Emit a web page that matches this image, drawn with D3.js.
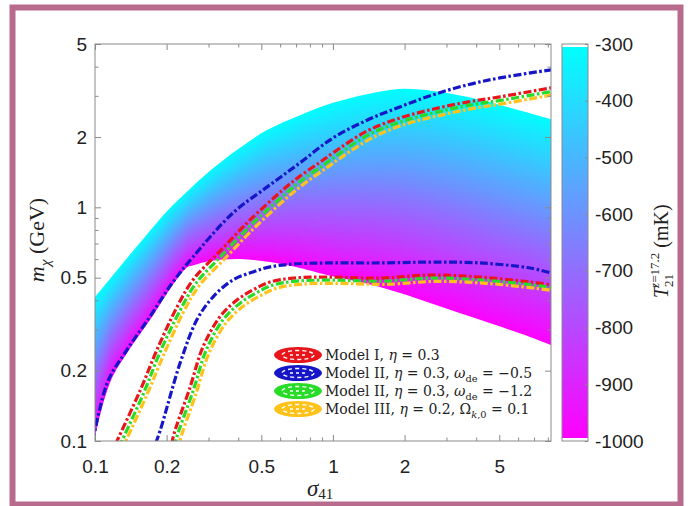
<!DOCTYPE html>
<html lang="en">
<head>
<meta charset="utf-8" />
<title>T21 band with model contours</title>
<script src="https://cdn.jsdelivr.net/npm/d3@7"></script>
<style>
  body { margin: 0; background: #fff; }
  .tick text { font-family: "Liberation Sans", Arial, sans-serif; font-size: 19px; fill: #222; }
  .tick line { stroke: #8a8a8a; }
  .serif { font-family: "Liberation Serif", "Times New Roman", serif; fill: #222; }
  .legend { font-family: "DejaVu Serif", serif; fill: #222; }
</style>
</head>
<body>
<script>
// ticks
var xTicks = [0.1, 0.2, 0.5, 1, 2, 5];
var xMinor = [0.3, 0.4, 0.6, 0.7, 0.8, 0.9, 3, 4, 6, 7, 8];
var yTicks = [0.1, 0.2, 0.5, 1, 2, 5];
var yMinor = [0.3, 0.4, 0.6, 0.7, 0.8, 0.9, 3, 4];
var cbTicks = [-300, -400, -500, -600, -700, -800, -900, -1000];

// coloured band: T21 = -300 edge (upper) and T21 = -1000 edge (lower)
var upperSigma = [0.1, 0.127, 0.162, 0.201, 0.251, 0.319, 0.407, 0.528, 0.727, 1.0, 1.39, 1.91, 2.63, 3.66, 5.03, 6.73, 8.3];
var upperMass  = [0.413, 0.556, 0.746, 0.964, 1.2, 1.49, 1.8, 2.14, 2.48, 2.8, 3.05, 3.21, 3.15, 2.97, 2.74, 2.53, 2.38];
var lowerSigma = [0.1, 0.116, 0.139, 0.174, 0.215, 0.245, 0.26, 0.304, 0.407, 0.544, 0.727, 0.944, 1.576, 2.56, 4.15, 6.73, 8.3];
var lowerMass  = [0.105, 0.179, 0.245, 0.34, 0.474, 0.555, 0.565, 0.589, 0.601, 0.583, 0.55, 0.513, 0.456, 0.39, 0.33, 0.279, 0.257];

// Model I (eta = 0.3)
var m1LeftSigma  = [0.122, 0.155, 0.182, 0.221, 0.258, 0.329, 0.407, 0.448, 0.617, 0.727, 0.882, 1.0, 1.39, 1.91, 2.63, 3.66, 5.03, 8.3];
var m1LeftMass   = [0.097, 0.165, 0.245, 0.374, 0.489, 0.637, 0.80, 0.883, 1.19, 1.36, 1.56, 1.71, 2.12, 2.41, 2.63, 2.82, 2.97, 3.25];
var m1RightSigma = [0.211, 0.213, 0.251, 0.284, 0.335, 0.395, 0.461, 0.544, 0.679, 0.944, 1.576, 2.56, 4.15, 6.73, 8.3];
var m1RightMass  = [0.097, 0.104, 0.170, 0.252, 0.340, 0.401, 0.443, 0.479, 0.498, 0.503, 0.498, 0.513, 0.503, 0.479, 0.465];

// Model II (eta = 0.3, w_de = -0.5)
var m2LeftSigma  = [0.098, 0.113, 0.136, 0.170, 0.211, 0.258, 0.38, 0.528, 0.727, 1.0, 1.39, 1.91, 2.63, 3.66, 5.03, 8.3];
var m2LeftMass   = [0.1, 0.179, 0.245, 0.34, 0.474, 0.613, 0.946, 1.22, 1.55, 1.98, 2.36, 2.69, 3.03, 3.34, 3.58, 3.88];
var m2RightSigma = [0.18, 0.188, 0.228, 0.268, 0.313, 0.38, 0.461, 0.544, 0.679, 0.944, 1.576, 2.56, 4.15, 6.73, 8.3];
var m2RightMass  = [0.098, 0.111, 0.216, 0.33, 0.413, 0.489, 0.529, 0.556, 0.572, 0.578, 0.578, 0.583, 0.578, 0.55, 0.523];

// Model II (eta = 0.3, w_de = -1.2)
var m3LeftSigma  = [0.126, 0.16, 0.187, 0.228, 0.266, 0.339, 0.419, 0.461, 0.636, 0.749, 0.908, 1.03, 1.43, 1.97, 2.71, 3.77, 5.18, 8.45];
var m3LeftMass   = [0.094, 0.16, 0.238, 0.363, 0.474, 0.618, 0.776, 0.857, 1.15, 1.32, 1.51, 1.66, 2.06, 2.34, 2.55, 2.74, 2.88, 3.14];
var m3RightSigma = [0.217, 0.219, 0.259, 0.293, 0.345, 0.407, 0.475, 0.56, 0.699, 0.972, 1.62, 2.64, 4.27, 6.93, 8.45];
var m3RightMass  = [0.094, 0.101, 0.165, 0.244, 0.33, 0.389, 0.43, 0.465, 0.483, 0.488, 0.483, 0.498, 0.488, 0.465, 0.452];

// Model III (eta = 0.2, Omega_k0 = 0.1)
var m4LeftSigma  = [0.129, 0.164, 0.193, 0.234, 0.273, 0.349, 0.431, 0.475, 0.654, 0.771, 0.935, 1.06, 1.47, 2.02, 2.79, 3.88, 5.33, 8.7];
var m4LeftMass   = [0.091, 0.155, 0.23, 0.352, 0.46, 0.599, 0.752, 0.83, 1.12, 1.28, 1.47, 1.61, 1.99, 2.27, 2.47, 2.65, 2.79, 3.05];
var m4RightSigma = [0.224, 0.226, 0.266, 0.301, 0.355, 0.419, 0.489, 0.577, 0.72, 1.0, 1.67, 2.71, 4.4, 7.13, 8.7];
var m4RightMass  = [0.091, 0.098, 0.16, 0.237, 0.32, 0.377, 0.416, 0.45, 0.468, 0.473, 0.468, 0.482, 0.473, 0.45, 0.438];

var legendRows = [
  [["Model I, "], ["η", "i"], [" = 0.3"]],
  [["Model II, "], ["η", "i"], [" = 0.3, "], ["ω", "i"], ["de", "sub"], [" = −0.5"]],
  [["Model II, "], ["η", "i"], [" = 0.3, "], ["ω", "i"], ["de", "sub"], [" = −1.2"]],
  [["Model III, "], ["η", "i"], [" = 0.2, Ω"], ["k", "subi"], [",0", "sub"], [" = 0.1"]]
];

var W = 688, H = 506;
var svg = d3.select("body").append("svg").attr("width", W).attr("height", H);
svg.append("rect").attr("width", W).attr("height", H).attr("fill", "#fff");

var x = d3.scaleLog().domain([0.1, 8.25]).range([95, 551]);
var y = d3.scaleLog().domain([0.1, 5]).range([441, 44]);
var colour = d3.scaleLinear().domain([-1000, -300]).range(["#ff00ff", "#00ffff"]);

var defs = svg.append("defs");
var grad = defs.append("linearGradient").attr("id", "cool")
  .attr("x1", 0).attr("y1", 0).attr("x2", 0).attr("y2", 1);
grad.selectAll("stop").data(cbTicks).enter().append("stop")
  .attr("offset", function(d) { return (-300 - d) / 700; })
  .attr("stop-color", function(d) { return colour(d); });

defs.append("clipPath").attr("id", "plotClip").append("rect")
  .attr("x", 95).attr("y", 44).attr("width", 456).attr("height", 397);

// band outline (smooth) used as clip for the gradient columns
var up = upperSigma.map(function(s, i) { return [x(s), y(upperMass[i])]; });
var lo = lowerSigma.map(function(s, i) { return [x(s), y(lowerMass[i])]; });
var smooth = d3.line().curve(d3.curveCatmullRom.alpha(0.5));
var bandPath = smooth(up) + "L" + smooth(lo.slice().reverse()).slice(1) + "Z";
defs.append("clipPath").attr("id", "bandClip").append("path").attr("d", bandPath);

var upAt = d3.scaleLinear().domain(up.map(function(p) { return p[0]; })).range(up.map(function(p) { return p[1]; })).clamp(true);
var loAt = d3.scaleLinear().domain(lo.map(function(p) { return p[0]; })).range(lo.map(function(p) { return p[1]; })).clamp(true);

var band = svg.append("g").attr("clip-path", "url(#plotClip)")
  .append("g").attr("clip-path", "url(#bandClip)");
band.selectAll("rect").data(d3.range(95, 551)).enter().append("rect")
  .attr("x", function(d) { return d; })
  .attr("width", 1.1)
  .attr("y", function(d) { return upAt(d + 0.5) - 2; })
  .attr("height", function(d) { return loAt(d + 0.5) - upAt(d + 0.5) + 4; })
  .attr("fill", "url(#cool)")
  .attr("shape-rendering", "crispEdges");

// model contours
var line = d3.line()
  .x(function(d) { return x(d[0]); })
  .y(function(d) { return y(d[1]); })
  .curve(d3.curveCatmullRom.alpha(0.5));
function pts(s, m) { return s.map(function(v, i) { return [v, m[i]]; }); }

var models = [
  { col: "#e8161b", branches: [pts(m1LeftSigma, m1LeftMass), pts(m1RightSigma, m1RightMass)] },
  { col: "#1616c8", branches: [pts(m2LeftSigma, m2LeftMass), pts(m2RightSigma, m2RightMass)] },
  { col: "#26dc26", branches: [pts(m3LeftSigma, m3LeftMass), pts(m3RightSigma, m3RightMass)] },
  { col: "#ffc21a", branches: [pts(m4LeftSigma, m4LeftMass), pts(m4RightSigma, m4RightMass)] }
];
var lines = svg.append("g").attr("clip-path", "url(#plotClip)");
models.forEach(function(m) {
  m.branches.forEach(function(b) {
    lines.append("path").attr("d", line(b))
      .attr("fill", "none").attr("stroke", m.col)
      .attr("stroke-width", 3.2).attr("stroke-dasharray", "8,2.5,2.5,2.5");
  });
});

// axes: ticks pointing inward
function clean(g) { g.select(".domain").remove(); }
svg.append("g").attr("transform", "translate(0,441)")
  .call(d3.axisBottom(x).tickValues(xTicks).tickSize(-6).tickPadding(19).tickFormat(function(d) { return String(d); }))
  .call(clean);
svg.append("g").attr("transform", "translate(0,441)")
  .call(d3.axisBottom(x).tickValues(xMinor).tickSize(-3.5).tickFormat("")).call(clean);
svg.append("g").attr("transform", "translate(0,44)")
  .call(d3.axisTop(x).tickValues(xTicks).tickSize(-6).tickFormat("")).call(clean);
svg.append("g").attr("transform", "translate(0,44)")
  .call(d3.axisTop(x).tickValues(xMinor).tickSize(-3.5).tickFormat("")).call(clean);
svg.append("g").attr("transform", "translate(95,0)")
  .call(d3.axisLeft(y).tickValues(yTicks).tickSize(-6).tickPadding(8).tickFormat(function(d) { return String(d); }))
  .call(clean);
svg.append("g").attr("transform", "translate(95,0)")
  .call(d3.axisLeft(y).tickValues(yMinor).tickSize(-3.5).tickFormat("")).call(clean);
svg.append("g").attr("transform", "translate(551,0)")
  .call(d3.axisRight(y).tickValues(yTicks).tickSize(-6).tickFormat("")).call(clean);
svg.append("g").attr("transform", "translate(551,0)")
  .call(d3.axisRight(y).tickValues(yMinor).tickSize(-3.5).tickFormat("")).call(clean);

svg.append("rect").attr("x", 95).attr("y", 44).attr("width", 456).attr("height", 397)
  .attr("fill", "none").attr("stroke", "#8a8a8a").attr("stroke-width", 1);

// colour bar
var cb = d3.scaleLinear().domain([-1000, -300]).range([441, 44]);
svg.append("rect").attr("x", 562).attr("y", 47).attr("width", 26).attr("height", 391)
  .attr("fill", "url(#cool)");
svg.append("rect").attr("x", 562).attr("y", 44).attr("width", 26).attr("height", 397)
  .attr("fill", "none").attr("stroke", "#8a8a8a");
svg.append("g").attr("transform", "translate(588,0)")
  .call(d3.axisRight(cb).tickValues(cbTicks).tickSize(-3).tickPadding(7).tickFormat(function(d) { return String(d); }))
  .call(clean);

// rich text helper
function rich(t, parts, base) {
  var shifted = false;
  parts.forEach(function(p) {
    var s = t.append("tspan").text(p[0]);
    var sub = p[1] === "sub" || p[1] === "subi";
    if (p[1] === "i" || p[1] === "subi") s.attr("font-style", "italic");
    if (sub) { s.attr("font-size", base * 0.7); if (!shifted) s.attr("dy", base * 0.25); }
    else if (shifted) s.attr("dy", -base * 0.25);
    shifted = sub;
  });
}

// legend
var leg = svg.append("g");
legendRows.forEach(function(row, i) {
  var cy = 355 + i * 18;
  var g = leg.append("g");
  g.append("ellipse").attr("cx", 298).attr("cy", cy).attr("rx", 24).attr("ry", 8)
    .attr("fill", models[i].col);
  g.append("ellipse").attr("cx", 298).attr("cy", cy).attr("rx", 16).attr("ry", 4.5)
    .attr("fill", "none").attr("stroke", "#fff").attr("stroke-width", 1.4).attr("stroke-dasharray", "4,3");
  g.append("line").attr("x1", 290).attr("x2", 306).attr("y1", cy).attr("y2", cy)
    .attr("stroke", "#fff").attr("stroke-width", 1.4).attr("stroke-dasharray", "3,3");
  var t = g.append("text").attr("class", "legend").attr("x", 325).attr("y", cy + 5).attr("font-size", 14);
  rich(t, row, 14);
});

// axis titles
var xl = svg.append("text").attr("class", "serif").attr("x", 307).attr("y", 496).attr("font-size", 23);
xl.append("tspan").attr("font-style", "italic").text("σ");
xl.append("tspan").attr("font-size", 15).attr("dy", 3).text("41");

var yl = svg.append("text").attr("class", "serif").attr("font-size", 22)
  .attr("transform", "translate(44,240) rotate(-90)").attr("text-anchor", "middle");
rich(yl, [["m", "i"], ["χ", "subi"], [" (GeV)"]], 22);

var cl = svg.append("text").attr("class", "serif").attr("font-size", 20)
  .attr("transform", "translate(668,298) rotate(-90)");
cl.append("tspan").attr("font-style", "italic").text("T");
cl.append("tspan").attr("font-size", 13).attr("dy", 5).text("21");
cl.append("tspan").attr("font-size", 13).attr("dx", -14).attr("dy", -14).attr("font-style", "italic").text("z");
cl.append("tspan").attr("font-size", 13).text("=17.2");
cl.append("tspan").attr("dy", 9).text(" (mK)");

// frame
svg.append("rect").attr("x", 12.5).attr("y", 7.5).attr("width", 668).attr("height", 497)
  .attr("fill", "none").attr("stroke", "#b86b8c").attr("stroke-width", 6);
</script>
</body>
</html>
